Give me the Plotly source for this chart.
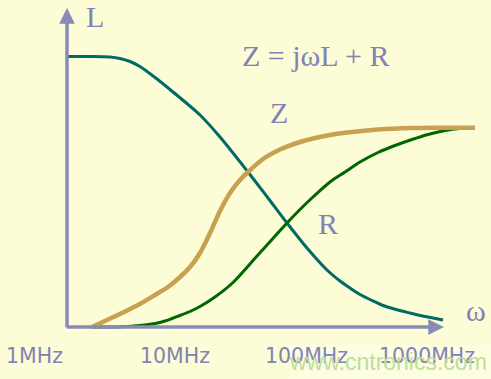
import plotly.graph_objects as go

# ---- data (x = log10(frequency / MHz), y = relative magnitude) ----
L_x = [0.2089, 0.3849, 0.5379, 0.6144, 0.6909, 0.7674, 0.8975, 1.0199, 1.2265, 1.3795, 1.5937,
       1.7468, 1.8921, 2.0451, 2.1982, 2.2976, 2.3741, 2.4507, 2.5425, 2.6266, 2.7261, 2.8332,
       2.9480, 3.0857]
L_y = [1.002, 1.002, 1.000, 0.9944, 0.9833, 0.9648, 0.9185, 0.8704, 0.7852, 0.7037, 0.5741,
       0.4778, 0.3852, 0.2926, 0.2111, 0.1704, 0.1444, 0.1204, 0.0981, 0.0796, 0.0648, 0.0519,
       0.0389, 0.0259]

Z_x = [0.4002, 0.5149, 0.6297, 0.7521, 0.8822, 0.9816, 1.0734, 1.1500, 1.2265, 1.3030, 1.3795,
       1.4560, 1.5325, 1.5937, 1.7085, 1.8386, 1.9686, 2.0911, 2.2211, 2.3359, 2.5884, 2.8485,
       3.1010, 3.3305]
Z_y = [0.0000, 0.0259, 0.0519, 0.0815, 0.1185, 0.1481, 0.1852, 0.2222, 0.2741, 0.3481, 0.4296,
       0.4963, 0.5444, 0.5741, 0.6222, 0.6574, 0.6815, 0.6981, 0.7111, 0.7196, 0.7315, 0.7370,
       0.7381, 0.7381]

R_x = [0.4002, 0.5379, 0.6297, 0.7674, 0.8822, 0.9587, 1.0122, 1.0734, 1.1500, 1.2265, 1.3412,
       1.4790, 1.6626, 1.7774, 1.8921, 1.9916, 2.0911, 2.2211, 2.3359, 2.4507, 2.5884, 2.7184,
       2.8485, 2.9709, 3.1010, 3.2158, 3.3305]
R_y = [0.0000, 0.0000, 0.0011, 0.0056, 0.0130, 0.0222, 0.0315, 0.0426, 0.0574, 0.0759, 0.1111,
       0.1648, 0.2630, 0.3241, 0.3852, 0.4352, 0.4815, 0.5370, 0.5741, 0.6111, 0.6463, 0.6722,
       0.6944, 0.7130, 0.7278, 0.7352, 0.7370]

tick_vals = [0, 1, 2, 3]
tick_text = ["1MHz", "10MHz", "100MHz", "1000MHz"]

# ---- layout helpers (pixel -> data) ----
W, H = 491, 379
X0, XS = 39.7, 130.7      # pixel of x=0, pixels per decade
Y0, YS = 327.0, 270.0     # pixel of y=0, pixels per unit

def px2x(px):
    return (px - X0) / XS

def py2y(py):
    return (Y0 - py) / YS

TICK_NUDGE = [-5, 5, 5, -5]   # the slide places its labels slightly unevenly

BG = "#FCFCD6"
AXC = "#8A8AB8"
TXC = "#8282B4"
SERIF = "Liberation Serif, Times New Roman, serif"
SANS = "DejaVu Sans, Verdana, sans-serif"

fig = go.Figure()

fig.add_trace(go.Scatter(x=L_x, y=L_y, mode="lines",
                         line=dict(color="#006A66", width=3, shape="spline", smoothing=0.8),
                         hoverinfo="skip", showlegend=False))
fig.add_trace(go.Scatter(x=R_x, y=R_y, mode="lines",
                         line=dict(color="#006600", width=3, shape="spline", smoothing=0.8),
                         hoverinfo="skip", showlegend=False))
fig.add_trace(go.Scatter(x=Z_x, y=Z_y, mode="lines",
                         line=dict(color="#C8A050", width=4.5, shape="spline", smoothing=0.8),
                         hoverinfo="skip", showlegend=False))

annotations = []
# axes with arrows
annotations.append(dict(x=px2x(67), y=py2y(8), ax=px2x(67), ay=py2y(328.7), xref="x", yref="y",
                        axref="x", ayref="y", text="", showarrow=True, arrowhead=2,
                        arrowsize=0.9, arrowwidth=3.5, arrowcolor=AXC))
annotations.append(dict(x=px2x(444), y=0, ax=px2x(65.3), ay=0, xref="x", yref="y",
                        axref="x", ayref="y", text="", showarrow=True, arrowhead=2,
                        arrowsize=0.9, arrowwidth=3.5, arrowcolor=AXC))

# tick labels
for v, t, dx in zip(tick_vals, tick_text, TICK_NUDGE):
    annotations.append(dict(x=v, y=py2y(356), xref="x", yref="y", text=t, showarrow=False,
                            xanchor="center", yanchor="middle", xshift=dx,
                            font=dict(family=SANS, size=20.5, color=TXC)))

def serif_label(text, cx, cy, size=30):
    annotations.append(dict(x=px2x(cx), y=py2y(cy), xref="x", yref="y", text=text,
                            showarrow=False, xanchor="center", yanchor="middle",
                            font=dict(family=SERIF, size=size, color=TXC)))

serif_label("L", 95, 16)
serif_label("Z = jωL + R", 315.5, 55.5)
serif_label("Z", 279, 112)
serif_label("R", 327.5, 223.5)
serif_label("ω", 475.5, 310)

# watermark
annotations.append(dict(x=px2x(388), y=py2y(362), xref="x", yref="y", text="www.cntronics.com",
                        showarrow=False, xanchor="center", yanchor="middle",
                        font=dict(family="Liberation Sans, Arial, sans-serif", size=23, color="#BEDF9A")))

fig.update_layout(
    width=W, height=H,
    margin=dict(l=0, r=0, t=0, b=0),
    paper_bgcolor=BG, plot_bgcolor=BG,
    xaxis=dict(range=[px2x(0), px2x(W)], visible=False, fixedrange=True),
    yaxis=dict(range=[py2y(H), py2y(0)], visible=False, fixedrange=True),
    annotations=annotations,
    shapes=[dict(type="rect", xref="x", yref="y", x0=px2x(290), x1=px2x(W + 5),
                 y0=py2y(H + 5), y1=py2y(345), fillcolor="#FDFDE2", line=dict(width=0),
                 layer="below")],
)

fig.write_html(
    "out.html",
    config={"displayModeBar": False},
    post_script="document.body.style.margin='0';document.body.style.overflow='hidden';"
                "document.body.style.background='" + BG + "';",
)
